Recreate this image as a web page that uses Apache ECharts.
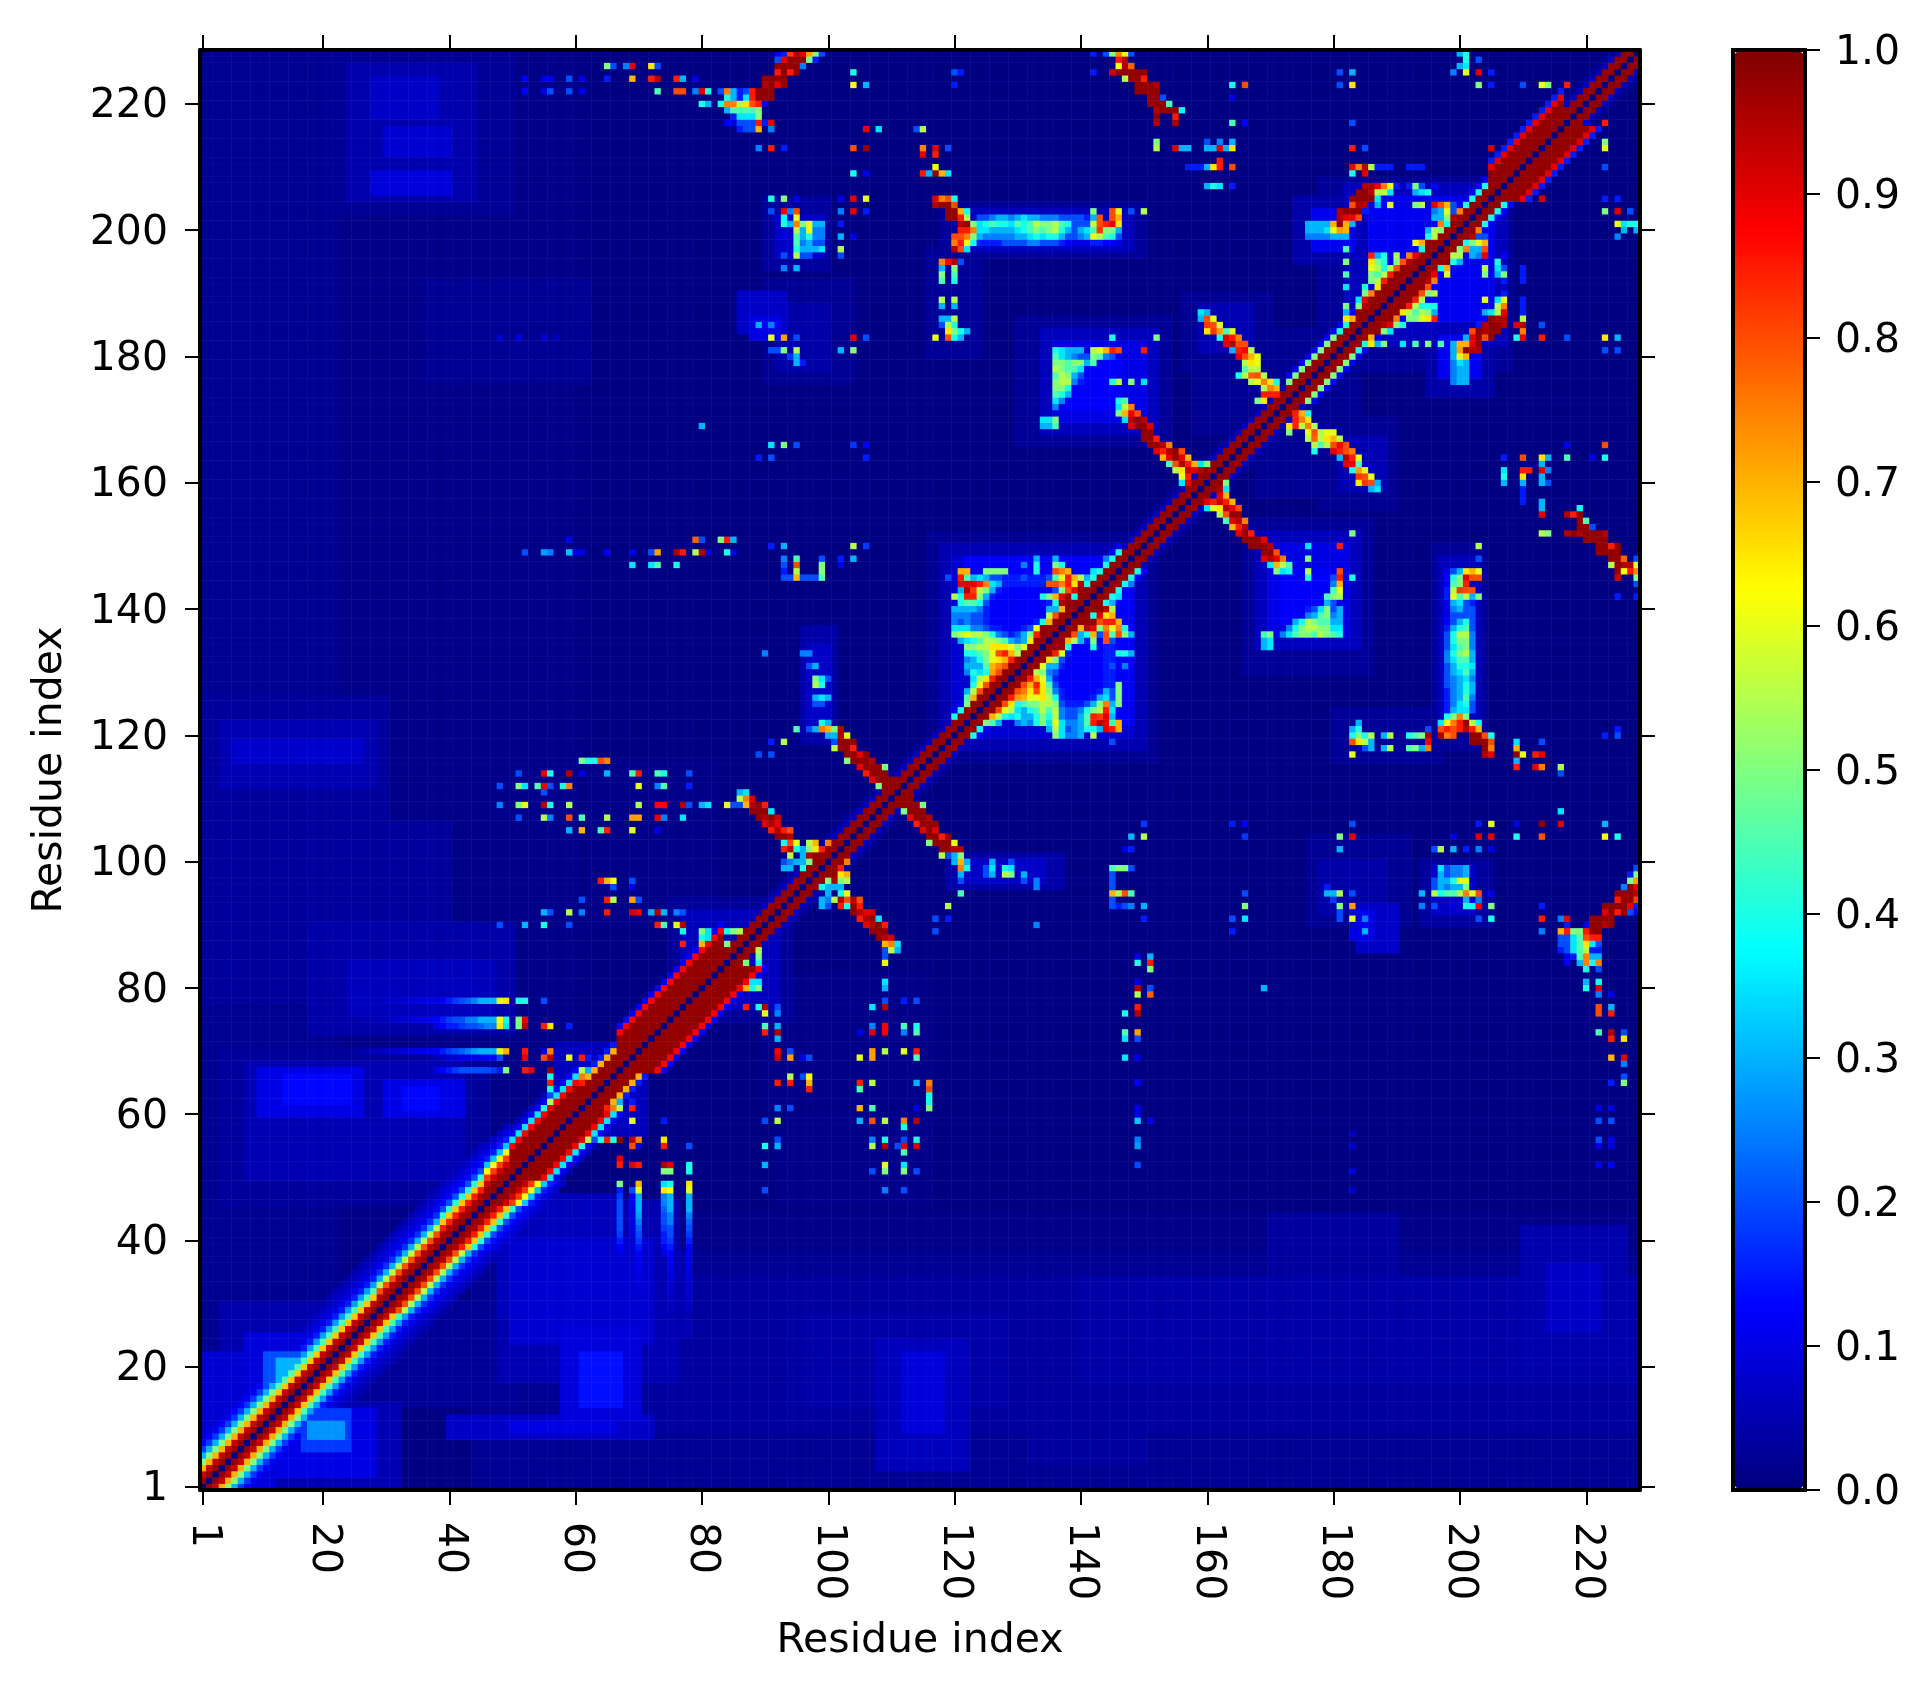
<!DOCTYPE html>
<html><head><meta charset="utf-8"><title>Residue contact map</title>
<script src="https://cdn.jsdelivr.net/npm/echarts@6/dist/echarts.min.js"></script>
<style>html,body{margin:0;background:#fff}#c{width:1929px;height:1690px}</style></head>
<body><div id="c"></div>
<script>
const residueCount = 228;
const axisTicks = [1,20,40,60,80,100,120,140,160,180,200,220];
const colorStops = ['#00007f','#0000ff','#0080ff','#00ffff','#80ff80','#ffff00','#ff8000','#ff0000','#7f0000'];

// [first residue, last residue, values at sequence separation 1,2,3...]
const diagonalBands = [
[1,12,[.98,.93,.7,.5,.3,.18,.12,.09,.07,.05]],
[13,28,[.98,.93,.68,.45,.28,.15,.1,.08,.06,.05]],
[29,38,[.98,.95,.8,.55,.3,.17,.11,.09,.07,.05]],
[39,45,[.98,.96,.85,.68,.42,.2,.13,.1,.08,.06]],
[46,49,[.98,.98,.93,.82,.62,.32,.15,.1,.07]],
[50,60,[.98,.98,.98,.98,.88,.35,.12,.06]],
[61,66,[.98,.98,.98,.7,.15]],
[67,83,[.98,.98,.98,.98,.98,.88,.12]],
[84,104,[.98,.98,.06,.03]],
[105,119,[.98,.98,.06,.02]],
[120,146,[.98,.98,.4,.12]],
[147,172,[.98,.98,.06,.02]],
[173,180,[.98,.98,.5,.12]],
[181,204,[.98,.98,.4,.12]],
[205,216,[.98,.98,.98,.98,.9,.15]],
[217,228,[.98,.98,.06,.02]]];

// [y residue, first x residue, values] read row by row, x < y; mirrored across the diagonal
const contactRowsLoop = [
[228,92,[.12,.15,.82,.95,.9,.72,.5,.2]],[227,92,[.2,.9,.98,.98,.98,.5,.15]],
[226,65,[.5,.2,0,.25,.9,0,0,.65,.2]],[226,92,[.98,.98,.98,.98,.25]],
[225,92,[.85,.98,.85,.98]],[225,104,[.4]],
[224,52,[.12,0,0,.1,.1,0,0,.2,0,.1]],[224,65,[.15,0,0,0,.7,0,0,.85,.95,0,0,.85,.3,0,.1]],[224,90,[.98,.98,.98,.98]],
[223,90,[.95,.98,.9,.98]],[223,104,[.62,0,.3]],
[222,52,[.12,0,0,.1,.2,0,0,.2,0,.1]],[222,73,[.45,0,0,.8,.8,0,.25,.9,.4,0,.2,.75,.3,.15,.2,.85,.98,.98,.98]],
[221,84,[.4,.3,.15,.35,.85,.98,.98,.98]],
[220,80,[.4,.3,0,.4,.75,.75,.55,.65,.8,.85,.1]],
[219,84,[.3,.45,.45,.45,.45,.5]],[218,85,[.15,.35,.35,.35,.5]],
[217,84,[.12,.1,.2,.2,.2,.85,.15,.9]],[216,86,[.15,.2,.2,.7,0,.25]],[216,106,[.9,0,.35]],
[213,89,[.25,0,.85,0,.15]],[213,104,[.8,0,.98]],[209,104,[.4,0,.1]],
[205,91,[.4,0,.5,0,.1]],[205,102,[.1,0,.9,0,.6]],
[203,91,[.2,0,.88,.25,.8]],[203,102,[.25,0,.9,0,.15]],[202,93,[.38,.08,.6]],
[201,93,[.4,.3,.75,.5,.6,.3,.3]],[201,102,[.15]],[200,95,[.55,.3,.6,.25,.25]],
[199,93,[.1,0,.45,.3,.4,.25,.25]],[199,102,[.3,0,.1]],[198,95,[.45,.25,.3,.2,.2]],
[197,95,[.4,.3,.3,.3,.35]],[197,102,[.55]],[196,93,[.2,0,.55,.2,.2]],[196,102,[.2]],[194,93,[.25,0,.3]],
[185,89,[.3,.12,.25,.12]],[183,48,[.08,0,0,.1,0,0,0,.08,0,.06]],[183,91,[.6,0,.72,0,.2]],[183,104,[.9,0,.2]],
[181,91,[.2,.2,.5,0,.55]],[181,102,[.3,0,.5]],[180,94,[.18,.3]],[179,95,[.3,.15]],
[169,80,[.3]],[166,91,[.35,0,.5,0,.2]],[166,104,[.18,0,.12]],[164,89,[.15,0,.2]],[164,106,[.15]],
[151,79,[.78,.2,0,0,.5,.85,.3]],[151,59,[.1]],[150,91,[.15,0,.3]],[150,104,[.55,0,.18]],
[149,52,[.2,0,0,.28,.25,0,0,.32,.1,.1,0,0,0,.12,0,0,0,.1]],[149,72,[.2,.72,0,0,.95,.85,0,.55,.95,.1,0,0,.4,.1]],
[148,93,[.25,0,.45]],[148,99,[.2,0,0,.15,0,.3]],
[147,69,[.35,0,0,.35,.45,0,0,.4]],[147,93,[.2,0,.8,0,0,0,.5,0,0,.1]],
[146,93,[.15,0,.55,0,0,0,.5]],[145,93,[.2,.2,.7,.2,.2,.2,.45]],
[133,90,[.25]],[133,96,[.25,.25]],[131,97,[.2,.3]],[129,98,[.5,.35,.2]],[128,98,[.55,.4]],
[126,98,[.3,.35,.3]],[125,98,[.2,.2]],[122,99,[.4,.3]],[121,95,[.45,0,.2,.3,.75,.7,.5,.95]],
[120,100,[.3,.3,.95,.6]],[119,91,[.15,0,.55]],[119,101,[.2,.98,.98,.98]],[118,101,[.55,.98,.98,.85]],
[117,89,[.2,0,.2]],[117,103,[.98,.98,.9,.98]],[116,61,[.5,.4,.4,.8,.75]],[116,103,[.5,.98,.98,.98,.95]],
[115,105,[.9,.98,.98,.98,.5]],[114,106,[.85,.98,.98,.98]],[113,107,[.9,.98,.98,.98,.2]],[112,108,[.5,.98,.98,.98]]];

const contactRowsHelixEnds = [
[114,51,[.2,0,0,0,.9,.4,0,0,.95,0,.1]],[114,65,[.3,0,0,0,.45,.85,0,0,.45,.4,0,0,0,.2]],
[112,48,[.2,0,0,.5,.35,0,.45,.9,.2,0,.4,.75]],[112,70,[.6,0,0,.25,.45,0,0,0,.15]],
[111,55,[.2]],[111,86,[.3,.35]],[110,86,[.55,.75,.92]],
[109,48,[.25,0,0,.5,.6,0,0,.95,.4,0,0,.55]],[109,70,[.55,0,0,.88,.88,0,0,.95,.2,0,.3,.35,0,0,.6,.2,.2,.7,.95,.98,.85]],
[108,88,[.98,.98,.98,.35]],
[107,51,[.2]],[107,55,[.55,.25,0,0,.8,0,.45]],[107,65,[.55,0,0,0,.72,.72,0,0,.9,.25,0,0,.35]],[107,89,[.98,.95,.98,.92]],
[106,90,[.9,.95,.9]],[105,59,[.3,0,.7,0,0,.45,.85,0,0,0,.6,0,0,0,.1]],[105,91,[.85,.95,.85,.8]],
[104,92,[.98,.98,.95]],[103,93,[.4,.8,.6]],[103,97,[.55,.7,0,.75]],[102,93,[.85,.95,.4,.3,.5,.65,.85]],
[101,94,[.55,0,.3,.95,.98,.98,.9,0,.7]],[100,93,[.2,.25,.3,.3,.5,.98,.9,.98]],[99,93,[.3,.3,0,.4,.9,.98,.98]],
[97,64,[.85,.7,.62,0,0,.2]],[96,66,[.2,0,0,.1]],[94,61,[.2,0,0,0,.85,.55,0,0,.72,.2]],
[92,55,[.3,.2,0,0,.55,0,.25,0,0,0,.85,0,0,0,.92,.88,0,.3,.95,.3,0,.25,.2]],
[90,48,[.2,0,0,0,.3,0,0,.4,0,0,0,.2]],[90,73,[.85,.45,0,.6,.95]],
[89,77,[.4,0,0,.5,.35,0,0,.4,.5,.55]],[88,80,[.4,.35,.3]],[87,77,[.85,0,0,.7,.75,.6,0,.5]],
[85,80,[.8,.8,.88,.3]],[82,78,[.25,.6,.85]],
[78,26,[.04,.05,.05,.06,.07,.07,.08,.08,.09,.09,.1,.1]],
[78,38,[.1,.12,.15,.18,.2,.22,.25,.3,.3,.3,.6,.65,0,.4,.4,0,0,.2]],
[75,26,[.04,.05,.05,.06,.06,.07,.08,.08,.09,.1,.1,.11]],
[75,38,[.12,.15,.18,.2,.2,.25,.25,.3,.3,.3,.62,.4,0,.5,.9]],
[74,38,[.1,.12,.15,.15,.18,.2,.2,.22,.25,.25,.65,.35,0,.5,.95,0,0,.85,.65,0,0,.15]],
[70,26,[.04,.05,.06,.06,.07,.08,.08,.09,.1,.1,.11,.11]],
[70,38,[.12,.15,.18,.2,.22,.25,.28,.3,.3,.3,.6,.7,0,0,.85,0,0,.1,.75]],
[69,38,[.05,.06,.08,.08,.1,.1,.1,.1,.12,.12,.2,0,0,0,.9,0,0,.8,.95,0,0,.6,0,.85,.15]],
[67,38,[.1,.12,.15,.18,.2,.2,.2,.2,.2,.18,.15,.5,0,0,.85,.9,0,0,.98]],[67,61,[.55,.3,.25,.25,.9]],
[66,56,[.4,0,0,0,0,.75]],[65,56,[.85,0,0,.3,0,.85,.92,.92,.98]],[64,56,[.4,0,0,0,0,.8]],
[63,56,[.2,0,0,.2]],[62,56,[.55,.7,0,.35,0,.85]],[61,55,[.4,.9,.85,0,.3]],[60,56,[.85,.95]]];

const contactRowsUpperRight = [
[228,142,[.15,0,.2,.5,.75,.6,.2]],[227,146,[.85,.95]],[226,146,[.62,.95,.78]],
[225,142,[.15]],[225,145,[.92,.98,.98,.98,.98,.98]],[224,147,[.55,.98,.98,.85]],
[223,149,[.98,.98,.98,.95]],[222,149,[.98,.98,.98,.98]],[221,151,[.98,.98,.2]],[220,151,[.98,.98,.98,.45]],
[219,152,[.95,.98,.98,.98,.38]],[218,152,[.98,0,0,.85]],[217,152,[.95,0,0,.95]],
[216,114,[.2,.55]],[214,152,[.5]],[213,152,[.55]],[213,155,[.9,.3,.3,0,0,.3,.3,.9,.3,.65]],
[214,160,[.2,0,.25,0,.3]],[213,115,[.75,0,.9,0,.2]],[212,115,[.9,0,.85]],[211,162,[.85]],
[210,117,[.6]],[210,157,[.15,.15,.15,.3,.65,.85,0,.8]],[209,115,[.85,.3,.98,.7,.35]],[207,160,[.3,.4,.35,0,.15]],
[223,164,[.4,0,.8]],[221,164,[.1]],[217,164,[.45,0,.12]],
[225,120,[.2,.15]],[225,181,[.2,0,.3]],[225,199,[.25,0,.6,0,.9,0,.15]],[228,200,[.3,.35]],[226,200,[.3,.35]],
[223,120,[.15]],[223,181,[.2,0,.65]],[223,203,[.45,0,.15,0,0,0,0,.2,0,0,.6,.5,0,0,.85]],
[217,183,[.2]],[213,183,[.85,0,.2]],[213,205,[.92]],[213,223,[.55]],[214,223,[.45]],
[210,183,[.9,.75,.95,.55,.15,.15,.15]],[210,192,[.15,.15,.15]],[209,183,[.4,0,.9]],
[207,185,[.95,.95,.9,.75,.6,.15,0,.15,.5,.2,0,.12]],[206,184,[.98,.98,.95,.55,.55,.35,0,0,0,.3,.35,.4]],
[205,183,[.98,.98,.98,.98,.35]],[205,213,[.9]],
[204,183,[.8,.95,.95,0,.3,0,.6,0,0,0,.5,.55,0,.9,.8,.7,.2]],
[203,181,[.95,.98,.98,.98,.15]],[203,196,[.25,.3,.6,.2,.75]],[203,223,[.5,0,.9,0,.2]],[202,181,[.95,.9,.9,.8]],[202,196,[.3,.3,.5,.95]],
[201,176,[.3,.3,.3,.3,.7,.98,.7,.3]],[201,197,[.75]],[201,225,[.6,0,.4,.4]],
[200,176,[.3,.3,.3,.35,.6,.72,.7]],[200,182,[.4]],[200,195,[.3,.55,.5]],
[199,176,[.25,.25,.25,.25,.3,.3,.3]],[199,195,[.4,.55,.85]],[198,193,[.6,.7,.98]],[197,182,[.45]],
[196,186,[.85,.3,.4,0,.55,0,.75,.9]],[195,182,[.5]],[195,186,[.65,.5,.4,0,.5,.8,.95]],
[194,186,[.6,.55,.4,.55,.8,.98]],[193,182,[.45]],[193,186,[.5,.45,.55,.85,.98]],[192,186,[.5,.55,.85,.98]],
[191,182,[.35]],[191,185,[.4,0,.65,.98]],[190,185,[.5,.75,.98]],[189,184,[.35,.9,.98]],
[188,182,[.5,0,.5,.95]],[187,182,[.3,0,.98]],[186,182,[.65,.7,.98]]];

const contactRowsBands = [
[205,117,[.9,.75,.8,.4]],[204,117,[.95,.98,.98,.8]],[203,119,[.98,.98,.7,.4]],[202,119,[.98,.98,.85,.55]],
[201,121,[.95,.98,.5]],[200,121,[.85,.85,.75]],[199,120,[.8,.8,.75,.5]],[198,120,[.75,.85,.6,.4]],
[197,120,[.95,.8,.35]],[195,118,[.75,.88,.95,.2]],[194,118,[.3,0,.5]],[193,118,[.5,0,.45]],[192,118,[.45,0,.4]],
[189,118,[.55,0,.55]],[188,118,[.3,0,.3]],[186,118,[.3,.3,.55]],[185,118,[.2,.55,.4]],[184,119,[.65,.5,.4,.3]],[183,117,[.6,0,.8,.4,.3]],
[203,142,[.5,0,0,.8,.6,0,.2,0,.55]],
[202,124,[.2,.2,.25,.3,.3,.25,.3,.35,.3,.3,.25,.25,.25,.2,.2,.2,.2,.15,.3,.8,0,.8,.7]],
[201,124,[.35,.4,.45,.4,.4,.35,.45,.4,.45,.55,.5,.5,.55,.45,.4,.2,.2,.2,.55,.8,.85,.9,.65]],
[200,124,[.35,.35,.3,.3,.3,.3,.35,.4,.45,.5,.45,.5,.55,.4,.3,.2,.3,.35,.45,.82,.5,.5,.3]],
[199,124,[.3,.25,.25,.25,.25,.25,.3,.3,.35,.4,.35,.4,.4,.3,.2,.2,.25,.3,.6,.55,.45,.4,.2]],
[198,124,[.15,.15,.15,.15,.2,.2,.2,.2,.25,.25,.2,.2,.2,.15,.12,.1,.1,.1,.15,.15,.12,.12,.1]],
[183,145,[.4]],[183,152,[.5]],
[181,136,[.4,.35,.3,.3,.3,0,.55,.6,.7,.85,.8,0,0,0,.85]],[180,136,[.45,.35,.3,.25,.2,.2,.5,.45,.25,.2]],
[179,136,[.5,.5,.45,.5,.5,.3,.45]],[178,136,[.55,.5,.45,.45,.35]],[177,136,[.45,.55,.5,.3,.2]],
[176,136,[.5,.55,.55,.25,.15]],[176,145,[.4,.55,0,.5,0,.35]],[175,136,[.5,.5,.4]],[174,136,[.45,.4,.3]],
[173,136,[.35,.25]],[173,146,[.4,.45]],[172,136,[.25]],[170,134,[.35,.35,.5]],[169,134,[.3,.3,.45]],
[187,159,[.35,.3]],[186,159,[.3,.8,.6]],[185,160,[.82,.8,.6]],[184,160,[.65,.82,.72,.45,.6]],[183,162,[.4,.9,.85,.75]],
[182,163,[.9,.95,.8,.8]],[181,164,[.3,.85,.88,.55]],[180,165,[.9,.8,.7,.6]],[179,166,[.55,.65,.6]],[178,166,[.45,.55,.55]],
[177,165,[.4,.55,.78,.8,.55]],[176,167,[.55,.6,.75,.65,.4]],[175,169,[.55,.75,.7]],[174,169,[.85,.85,.85]],[173,168,[.5,.65]],
[172,146,[.35,.55,.75]],[171,146,[.5,.7,.9,.8]],[170,147,[.35,.95,.98,.95]],[169,148,[.9,.98,.98,.9]],[168,150,[.98,.98]],
[167,150,[.98,.98,.85]],[166,151,[.98,.98,.95,.75]],[165,152,[.9,.85,.95,.98,.8]],[164,153,[.7,.9,.98,.9,.7]],
[163,154,[.45,.8,.95,.85,.7,.35,.5]],[162,155,[.55,.65,.93,.9,.95,.98]],[161,156,[.6,.85]],[160,156,[.35,.9]]];

const contactRowsHelixPacking = [
[148,133,[.3,0,0,.3]],[148,144,[.25,.4,.9]],[147,131,[.25,0,.4,0,0,.5,.4]],[147,145,[.9,.98]],
[146,121,[.7,.7,0,0,.5,.5,.5,.5,0,0,0,0,.4,0,0,.8,.75,.7]],[146,142,[.35,0,.95,.98]],
[145,119,[.2,0,.85,.45,.3,.35,.3,.2,.2,.15,.15,.15,.2,.15,.15,.15,.2,.45,.6,.85,.7,.55,.3,.3,.95]],
[144,121,[.9,.9,.9,.85,.75,.35,.3,.15,.15,.15,.15,.15,.15,.15,.8,.8,.75,.85,.65,.95]],
[143,121,[.3,.95,.82,.55,.5,.3,.15,.12,.12,.12,.12,.12,.12,.12,.12,.2,.5,.8,.9,.98]],
[142,120,[.55,.4,.85,.85,.5,.3,.15,.12,.12,.12,.12,.12,.12,.12,.4,.5,.7,.9,.98]],
[141,121,[.4,.45,.45,.4,.2,.1,.1,.1,.1,.1,.1,.1,.1,.1,.15,.4,.95,.98]],
[140,120,[.3,.3,.3,.3,.25,.15,.1,.1,.1,.1,.1,.1,.1,.1,.1,.3,.3,.7,.8]],
[139,120,[.25,.25,.25,.2,.2,.15,.1,.1,.1,.1,.1,.1,.1,.1,.1,.55,.8,.98]],
[138,120,[.25,.2,.25,.2,.2,.15,.1,.1,.1,.1,.1,.1,.12,.15,.4,.7,.98]],
[137,120,[.35,.35,.35,.25,.25,.2,.15,.15,.1,.1,.12,.15,.2,.6,.98]],
[136,120,[.5,.55,.6,.55,.55,.5,.4,.25,.2,.15,.2,.3,.5,.85,.98]],
[135,121,[.3,.35,.4,.45,.55,.55,.5,.45,.3,.25,.3,.65,.98]],
[134,122,[.5,.5,.55,.55,.65,.65,.65,.6,.5,.6,.98]],
[133,122,[.4,.4,.45,.5,.6,.8,.85,.7,.55,.98]],[132,122,[.25,.3,.4,.5,.6,.65,.7,.85,.98]],
[131,122,[.3,.3,.3,.45,.7,.75,.8,.98]],[130,122,[.25,.4,.35,.4,.72,.8,.98]],[129,123,[.35,.55,.65,.85,.98]],
[128,123,[.4,.6,.8,.98]],[127,122,[.3,.55,.8,.98]],[126,122,[.45,.7,.98]],[125,122,[.5,.98]]];

// low-level haze patches [x first, x last, y first, y last, value], nested from wide and faint to small and brighter
const hazeMirrored = [
[90,104,176,192,.02],[92,100,178,188,.04],[86,93,184,190,.07],[88,92,183,186,.1],
[90,100,194,205,.03],[92,99,196,202,.07],[96,101,119,137,.04],[97,100,122,134,.07],
[118,150,196,204,.025],[122,148,197,203,.06],[116,124,180,197,.025],
[130,154,166,186,.025],[134,152,168,184,.06],[136,150,170,182,.1],[138,146,172,180,.12],
[156,170,178,190,.02],[159,167,181,188,.05],
[178,208,183,208,.025],[182,205,185,207,.06],[186,203,188,205,.11],
[174,184,195,205,.04],[177,183,197,203,.11],[158,180,168,184,.02],
[116,152,116,152,.02],[118,150,118,150,.05],[120,148,120,148,.08],[122,146,136,148,.12],
[142,152,172,181,.04],[75,92,75,94,.025],[77,90,77,92,.06],[57,65,59,71,.06],[46,60,92,116,.012],[62,82,90,116,.01]];
const hazeUpperLeft = [
[1,22,1,228,.018],[22,60,1,228,.01],[1,30,104,126,.028],[4,28,112,122,.05],[6,26,116,119,.075],
[20,50,203,228,.022],[24,44,205,226,.045],[28,40,206,209,.09],[30,40,212,216,.08],[28,38,218,224,.07],
[1,40,78,106,.028],[18,50,73,90,.04],[24,47,76,84,.06],[36,62,176,192,.02],
[4,46,46,70,.028],[8,42,50,68,.05],[10,26,60,67,.1],[14,24,62,66,.13],[30,42,60,65,.1],[33,38,61,64,.13],
[4,26,12,30,.045],[8,22,14,25,.09],[11,20,16,22,.2],[13,18,17,21,.3],[1,10,10,22,.08]];
const hazeLowerRight = [
[44,228,1,38,.02],[44,228,39,44,.012],[60,228,10,34,.03],[48,76,18,46,.05],[50,72,24,40,.08],[58,70,12,26,.09],[61,67,14,22,.14],
[40,72,9,12,.07],[50,66,10,11,.1],
[10,32,1,14,.05],[13,28,3,13,.1],[17,24,7,13,.18],[18,23,9,11,.27],[5,12,1,4,.09],
[96,128,14,28,.04],[108,122,4,24,.06],[112,118,10,22,.09],[140,228,18,34,.04],[170,190,24,44,.03],
[210,226,20,42,.045],[214,222,26,36,.07],[24,50,14,30,.025],[48,66,28,47,.06],[66,78,25,38,.05],[132,150,5,30,.03]];

const size = residueCount + 1;
const matrix = Array.from({length:size},()=>new Float32Array(size).fill(0.004));
const raise = (x,y,v)=>{ if(x>=1&&x<=residueCount&&y>=1&&y<=residueCount&&v>matrix[y][x]) matrix[y][x]=v; };
const patch = (b,both)=>{ for(let x=b[0];x<=b[1];x++)for(let y=b[2];y<=b[3];y++){ raise(x,y,b[4]); if(both) raise(y,x,b[4]); } };
hazeMirrored.forEach(b=>patch(b,true));
hazeUpperLeft.forEach(b=>{ for(let x=b[0];x<=b[1];x++)for(let y=b[2];y<=b[3];y++) if(y>x) raise(x,y,b[4]); });
hazeLowerRight.forEach(b=>{ for(let x=b[0];x<=b[1];x++)for(let y=b[2];y<=b[3];y++) if(x>y) raise(x,y,b[4]); });
[contactRowsLoop,contactRowsHelixEnds,contactRowsUpperRight,contactRowsBands,contactRowsHelixPacking].forEach(rows=>{
  rows.forEach(([y,x0,vals])=>vals.forEach((v,i)=>{ if(v>0){ raise(x0+i,y,v); raise(y,x0+i,v);} }));
});
diagonalBands.forEach(([a,b,vals])=>{
  for(let k=a;k<=b;k++) vals.forEach((v,i)=>{ raise(k,k+i+1,v); raise(k+i+1,k,v); });
});
const cells=[];
for(let y=1;y<=residueCount;y++)for(let x=1;x<=residueCount;x++){
  cells.push([x-1,y-1,x===y?0:+matrix[y][x].toFixed(3)]);
}
const labels = Array.from({length:residueCount},(_,i)=>String(i+1));
const isTick = (i)=>axisTicks.includes(i+1);
const FONT='"DejaVu Sans"', FS=41;
const tick={show:true,length:15,inside:false,alignWithLabel:true,interval:isTick,lineStyle:{color:'#000',width:2}};
const line={show:true,onZero:false,lineStyle:{color:'#000',width:4}};
const shiftedText={a:{fontFamily:FONT,fontSize:FS,color:'#000',padding:[6,0,0,0]}};

const chart=echarts.init(document.getElementById('c'),null,{renderer:'canvas'});
chart.setOption({
  animation:false,backgroundColor:'#fff',
  grid:[{left:200,top:50,width:1440,height:1440,containLabel:false},
        {left:1733,top:50,width:72,height:1440,show:true,borderColor:'#000',borderWidth:4,backgroundColor:'transparent'}],
  xAxis:[
   {type:'category',z:10,data:labels,gridIndex:0,position:'bottom',axisLine:line,axisTick:tick,splitLine:{show:false},
    axisLabel:{show:true,interval:isTick,rotate:-90,margin:32,fontFamily:FONT,fontSize:FS,color:'#000'},
    name:'Residue index',nameLocation:'middle',nameGap:131,nameTextStyle:{fontFamily:FONT,fontSize:FS,color:'#000'}},
   {type:'category',z:10,data:labels,gridIndex:0,position:'top',axisLine:line,axisTick:tick,axisLabel:{show:false},splitLine:{show:false}},
   {type:'category',data:[''],gridIndex:1,axisLine:{show:false},axisTick:{show:false},axisLabel:{show:false}}],
  yAxis:[
   {type:'category',z:10,data:labels,gridIndex:0,position:'left',axisLine:line,axisTick:tick,splitLine:{show:false},
    axisLabel:{show:true,interval:isTick,margin:32,fontFamily:FONT,fontSize:FS,color:'#000',formatter:v=>'{a|'+v+'}',rich:shiftedText},
    name:'Residue index',nameLocation:'middle',nameGap:129,nameRotate:90,nameTextStyle:{fontFamily:FONT,fontSize:FS,color:'#000'}},
   {type:'category',z:10,data:labels,gridIndex:0,position:'right',axisLine:line,axisTick:tick,axisLabel:{show:false},splitLine:{show:false}},
   {type:'value',gridIndex:1,position:'right',min:0,max:1,interval:0.1,axisLine:{show:false},splitLine:{show:false},
    axisTick:{show:true,length:15,lineStyle:{color:'#000',width:2}},
    axisLabel:{margin:30,fontFamily:FONT,fontSize:FS,color:'#000',formatter:v=>'{a|'+v.toFixed(1)+'}',rich:shiftedText}}],
  visualMap:{type:'continuous',seriesIndex:0,min:0,max:1,calculable:false,left:1735,top:52,itemWidth:68,itemHeight:1436,padding:0,
    text:null,showLabel:false,inRange:{color:colorStops}},
  series:[{type:'heatmap',xAxisIndex:0,yAxisIndex:0,data:cells,progressive:0,itemStyle:{borderWidth:0},emphasis:{disabled:true},silent:true}]
});
</script></body></html>
